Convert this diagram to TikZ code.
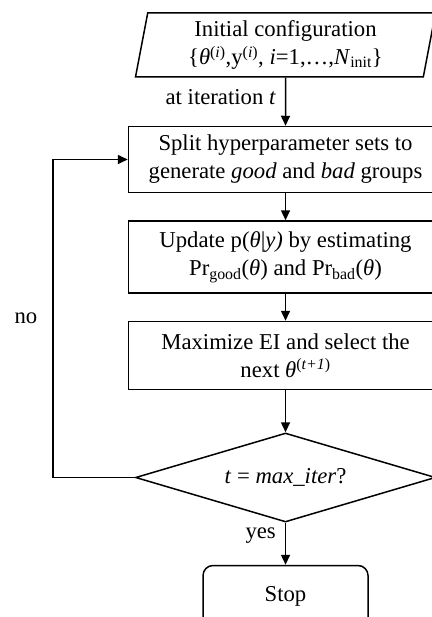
\documentclass[tikz,border=0pt]{standalone}
\usepackage{fontspec}
\setmainfont{Liberation Serif}
\usepackage{tikz}
\usetikzlibrary{arrows.meta,positioning,shapes.geometric}
\tikzset{
  process/.style={draw, line width=1.5pt, align=center,
    minimum width=314pt, minimum height=68pt, inner sep=2pt},
  inputbox/.style={draw, line width=1.5pt, align=center, trapezium,
    trapezium left angle=77, trapezium right angle=103, trapezium stretches body,
    minimum width=300pt, minimum height=64pt, inner sep=2pt},
  decision/.style={draw, line width=1.5pt, diamond, aspect=3.3, align=center,
    minimum width=300pt, minimum height=89pt, inner sep=0pt},
  terminal/.style={draw, line width=1.5pt, rounded corners=10pt, align=center,
    minimum width=165pt, minimum height=62pt},
  wire/.style={-{Triangle[length=10pt, width=9pt]}, line width=1.5pt},
  labeltext/.style={inner sep=3pt}
}
\newcommand{\thet}{\textit{θ}}

\begin{document}
\begin{tikzpicture}[x=1pt, y=1pt, node distance=27pt,
    every node/.append style={font=\fontsize{22.7}{28}\selectfont}]
  \useasboundingbox (0,0) rectangle (431,-617);
  \node[inputbox] (init) at (285.5,-45) {Initial configuration\\
    \{\thet\textsuperscript{(\textit{i})},y\textsuperscript{(\textit{i})}, \textit{i}=1,\dots,\textit{N}\textsubscript{init}\}};
  \node[process, minimum height=66pt, below=48pt of init] (split) {Split hyperparameter sets to\\
    generate \textit{good} and \textit{bad} groups};
  \node[process, minimum height=72pt, below=of split] (update) {Update p(\thet|\textit{y)} by estimating\\
    Pr\textsubscript{good}(\thet) and Pr\textsubscript{bad}(\thet)};
  \node[process, below=of update] (select) {Maximize EI and select the\\
    next \thet\textsuperscript{(\textit{t+1})}};
  \node[decision, below=42pt of select] (check) {\textit{t} = \textit{max\_iter}?};
  \node[terminal, below=42pt of check] (stop) {Stop};
  \coordinate (loopx) at (53,0);

  \draw[wire] (init) -- node[labeltext, left=6pt, pos=0.4]{at iteration \textit{t}} (split);
  \draw[wire] (split) -- (update);
  \draw[wire] (update) -- (select);
  \draw[wire] (select) -- (check);
  \draw[wire] (check) -- node[labeltext, left=6pt, pos=0.3]{yes} (stop);
  \draw[wire] (check.west) -- (check.west -| loopx)
    -- node[labeltext, left=12pt]{no} (split.west -| loopx) -- (split.west);
\end{tikzpicture}
\end{document}
